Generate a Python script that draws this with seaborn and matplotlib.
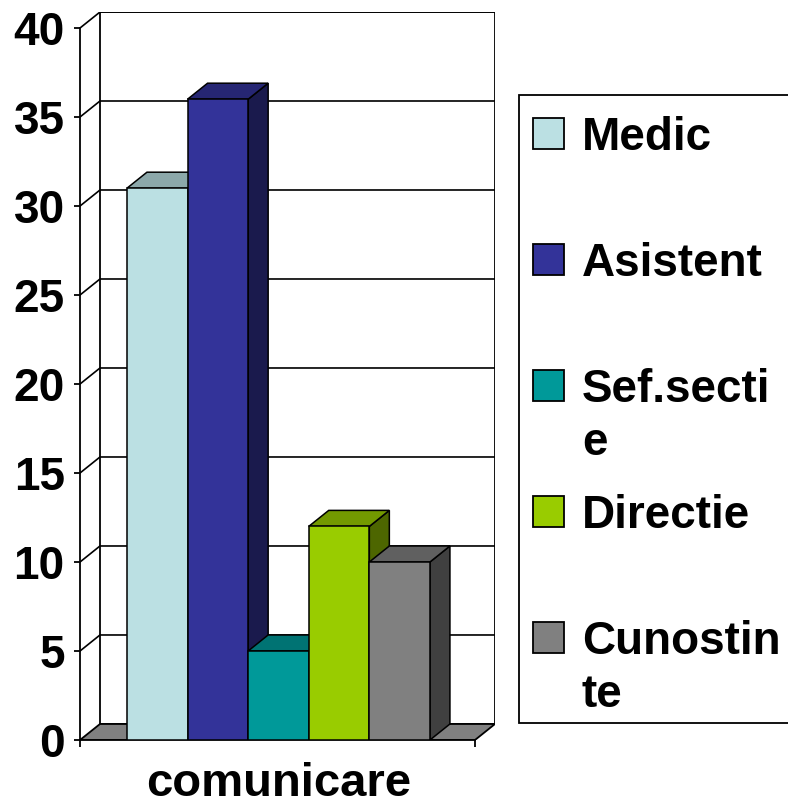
import numpy as np
import pandas as pd
import matplotlib
matplotlib.use('Agg')
import matplotlib.pyplot as plt
import matplotlib.colors as mcolors
from matplotlib.patches import Polygon, Rectangle
import seaborn as sns

# ── Data ───────────────────────────────────────────────────────────────
categories = ['comunicare']
roles = ['Medic', 'Asistent', 'Sef.sectie', 'Directie', 'Cunostinte']
legend_labels = ['Medic', 'Asistent', 'Sef.secti\ne', 'Directie', 'Cunostin\nte']
values = [31, 36, 5, 12, 10]
yticks = [0, 5, 10, 15, 20, 25, 30, 35, 40]

front_colors = ['#BBE0E3', '#333399', '#009999', '#99CC00', '#808080']

# ── Style ──────────────────────────────────────────────────────────────
sns.set_theme(style='white')
plt.rcParams['font.family'] = ['Liberation Sans', 'DejaVu Sans']
plt.rcParams['font.weight'] = 'bold'


def shade(c, f):
    r, g, b = mcolors.to_rgb(c)
    return (r * f, g * f, b * f)


# 3D look: depth offset of the box in data units
DX, DY = 0.0528, 0.9
XL, XR = -0.524, 0.519
YMAX = yticks[-1]
LW = 1.3

fig = plt.figure(figsize=(7.88, 8.08), dpi=100)
ax = fig.add_axes([80 / 788, 68 / 808, 415 / 788, 728 / 808])

df = pd.DataFrame({'cat': categories * len(roles), 'role': roles, 'value': values})
sns.barplot(data=df, x='cat', y='value', hue='role', hue_order=roles,
            palette=front_colors, saturation=1, width=0.8, errorbar=None,
            edgecolor='black', linewidth=1.1, legend=False, ax=ax)
bars = sorted([p for p in ax.patches if isinstance(p, Rectangle)],
              key=lambda p: p.get_x())

# walls, floor, gridlines
ax.add_patch(Rectangle((XL + DX, DY), XR - XL, YMAX, facecolor='white',
                       edgecolor='black', lw=LW, zorder=0.5))
ax.add_patch(Polygon([(XL, 0), (XR, 0), (XR + DX, DY), (XL + DX, DY)],
                     closed=True, facecolor='#808080', edgecolor='black',
                     lw=LW, zorder=1))
for v in yticks[1:]:
    ax.plot([XL, XL + DX, XR + DX], [v, v + DY, v + DY],
            color='black', lw=1.2, zorder=0.8)

# side and top faces of every bar
for i, (p, col) in enumerate(zip(bars, front_colors)):
    x0, w, h = p.get_x(), p.get_width(), p.get_height()
    p.set_zorder(10 + 3 * i + 2)
    side = Polygon([(x0 + w, 0), (x0 + w + DX, DY), (x0 + w + DX, h + DY), (x0 + w, h)],
                   closed=True, facecolor=shade(col, 0.5), edgecolor='black',
                   lw=1.1, zorder=10 + 3 * i)
    top = Polygon([(x0, h), (x0 + w, h), (x0 + w + DX, h + DY), (x0 + DX, h + DY)],
                  closed=True, facecolor=shade(col, 0.75), edgecolor='black',
                  lw=1.1, zorder=10 + 3 * i + 1)
    ax.add_patch(side)
    ax.add_patch(top)

ax.set_xlim(XL, XR + DX)
ax.set_ylim(0, YMAX + DY)
ax.set_xlabel('')
ax.set_ylabel('')
ax.set_facecolor('none')

for s in ['top', 'right']:
    ax.spines[s].set_visible(False)
ax.spines['left'].set_bounds(0, YMAX)
ax.spines['bottom'].set_bounds(XL, XR)
for s in ['left', 'bottom']:
    ax.spines[s].set_color('black')
    ax.spines[s].set_linewidth(LW)
    ax.spines[s].set_zorder(2)

ax.set_yticks(yticks)
ax.set_yticklabels([str(t) for t in yticks], fontsize=33, fontweight='bold')
ax.tick_params(axis='y', left=True, direction='out', length=4, width=LW,
               pad=7, colors='black')
ax.set_xticks([0])
ax.set_xticklabels(categories, fontsize=34, fontweight='bold')
ax.set_xticks([XL, XR], minor=True)
ax.tick_params(axis='x', which='major', bottom=True, length=0, pad=16, colors='black')
ax.tick_params(axis='x', which='minor', bottom=True, direction='out',
               length=5, width=LW, color='black')

# ── Legend (pixel overlay) ─────────────────────────────────────────────
lax = fig.add_axes([0, 0, 1, 1])
lax.set_xlim(0, 788)
lax.set_ylim(808, 0)
lax.axis('off')
lax.add_patch(Rectangle((519, 95), 320, 628, facecolor='white',
                        edgecolor='black', lw=LW))
for i, (lab, col) in enumerate(zip(legend_labels, front_colors)):
    yc = 133.5 + i * 126
    lax.add_patch(Rectangle((533, yc - 15.5), 31, 31, facecolor=col,
                            edgecolor='black', lw=LW))
    lax.text(582, yc - 17, lab, fontsize=33, fontweight='bold',
             va='top', ha='left', color='black', linespacing=1.25)

fig.savefig('out.png', dpi=100)
